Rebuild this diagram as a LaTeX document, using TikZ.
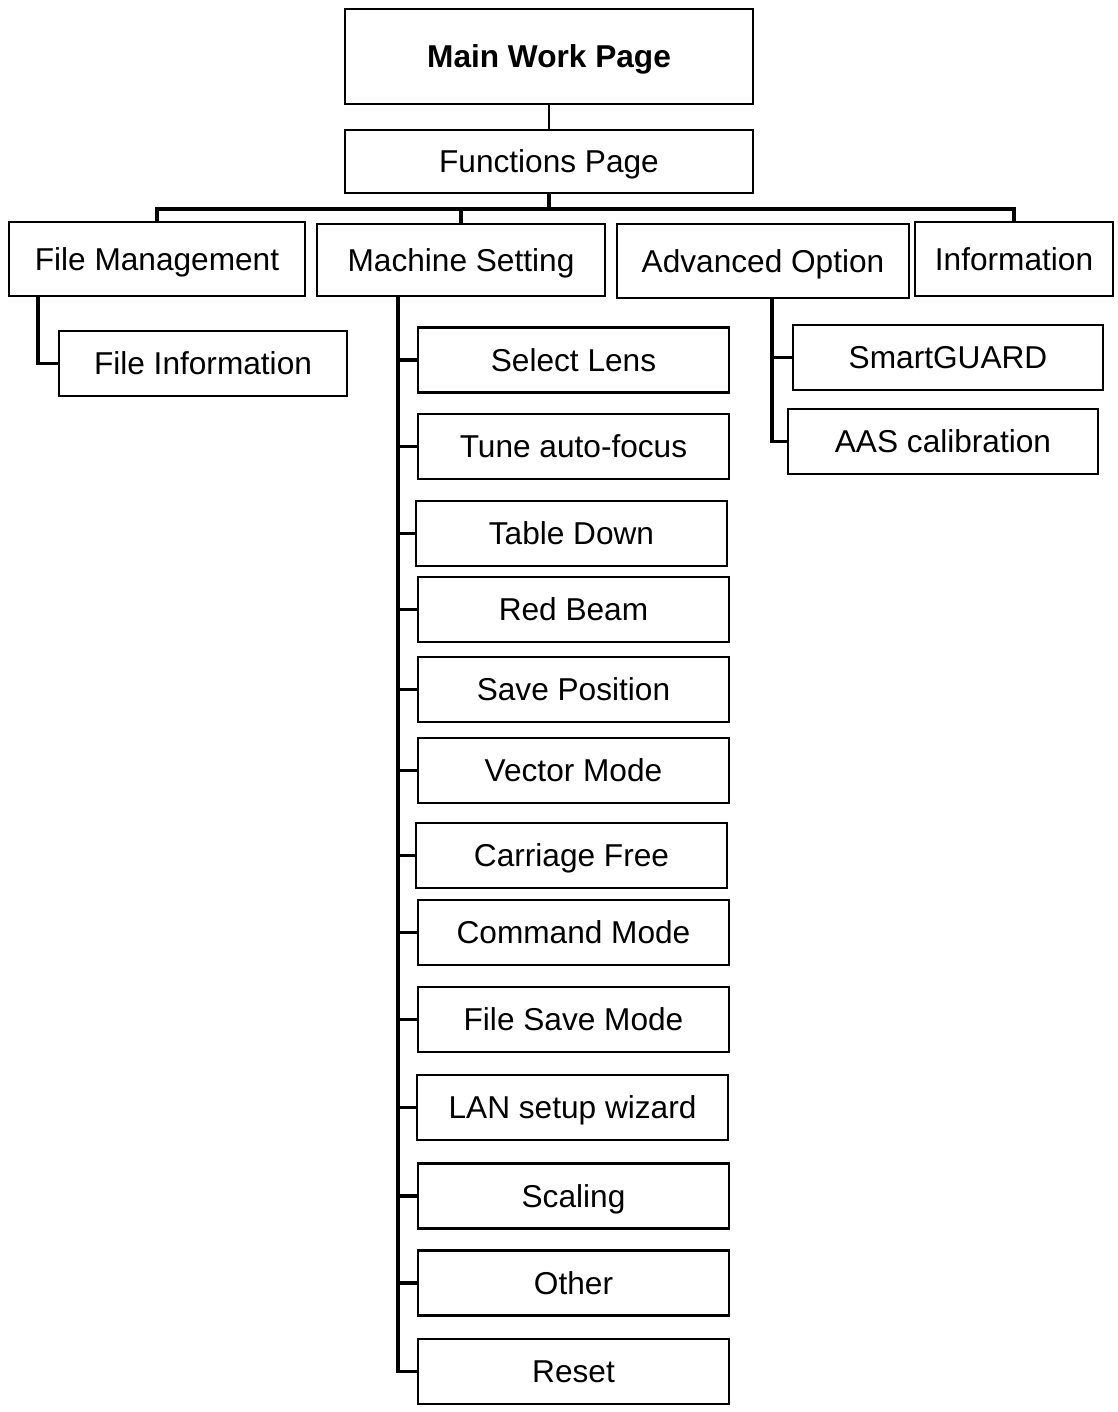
\documentclass[tikz,border=0pt]{standalone}
\usepackage{fontspec}
\setmainfont{Liberation Sans}
\usetikzlibrary{positioning}

\tikzset{
  menubox/.style={draw, line width=1.2pt, inner sep=0pt, minimum width=6.22cm,
    minimum height=1.3cm, text height=12.9pt, text depth=0pt,
    font=\fontsize{18}{21}\selectfont},
  link/.style={line width=2pt},
  bus/.style={line width=2.6pt},
}

\begin{document}
\begin{tikzpicture}[x=0.02cm, y=-0.02cm]
  \useasboundingbox (0,0) rectangle (1117,1412);

  % top of the tree
  \node[menubox, minimum width=8.16cm, minimum height=1.9cm,
        font=\fontsize{18}{21}\selectfont\bfseries] (mainpage) at (549,56.5) {Main Work Page};
  \node[menubox, minimum width=8.16cm, minimum height=1.26cm] (functions) at (549,161.5) {Functions Page};
  \draw[line width=1.5pt] (mainpage) -- (functions);

  % first level
  \node[menubox, minimum width=5.92cm, minimum height=1.48cm] (filemgmt) at (157,259) {File Management};
  \node[menubox, minimum width=5.76cm, minimum height=1.44cm] (machine) at (461,260) {Machine Setting};
  \node[menubox, minimum width=5.84cm, minimum height=1.48cm] (advanced) at (763,261) {Advanced Option};
  \node[menubox, minimum width=3.96cm, minimum height=1.48cm] (info) at (1014,259) {Information};

  \draw[bus] (functions.south) -- ++(0,15) coordinate (busmid);
  \draw[bus] (filemgmt.north) |- (busmid);
  \draw[bus] (info.north) |- (busmid);
  \draw[link] (machine.north) -- (machine.north |- busmid);

  % file management
  \node[menubox, minimum width=5.76cm] (fileinfo) at (203,363.5) {File Information};
  \coordinate (fmspine) at ([xshift=0.6cm]filemgmt.south west);
  \draw[link] (fmspine) |- (fileinfo.west);

  % machine setting
  \coordinate (msspine) at ([xshift=1.64cm]machine.south west);
  \foreach \name/\x/\y/\label in {
      sellens/573.5/360/Select Lens,
      autofocus/573.5/446.5/Tune auto-focus,
      tabledown/571.5/533.5/Table Down,
      redbeam/573.5/609.5/Red Beam,
      savepos/573.5/689.5/Save Position,
      vectormode/573.5/770.5/Vector Mode,
      carriage/571.5/855.5/Carriage Free,
      command/573.5/932.5/Command Mode,
      filesave/573.5/1019.5/File Save Mode,
      lanwizard/572.5/1107.5/LAN setup wizard,
      scaling/573.5/1196/Scaling,
      other/573.5/1283/Other,
      reset/573.5/1371.5/Reset} {
    \node[menubox] (\name) at (\x,\y) {\label};
    \draw[link] (msspine) |- (\name.west);
  }

  % advanced option
  \node[menubox, minimum width=6.2cm] (smartguard) at (948,357.5) {SmartGUARD};
  \node[menubox, minimum width=6.2cm] (aascalib) at (943,441.5) {AAS calibration};
  \coordinate (aospine) at ([xshift=3.12cm]advanced.south west);
  \draw[link] (aospine) |- (smartguard.west);
  \draw[link] (aospine) |- (aascalib.west);
\end{tikzpicture}
\end{document}
